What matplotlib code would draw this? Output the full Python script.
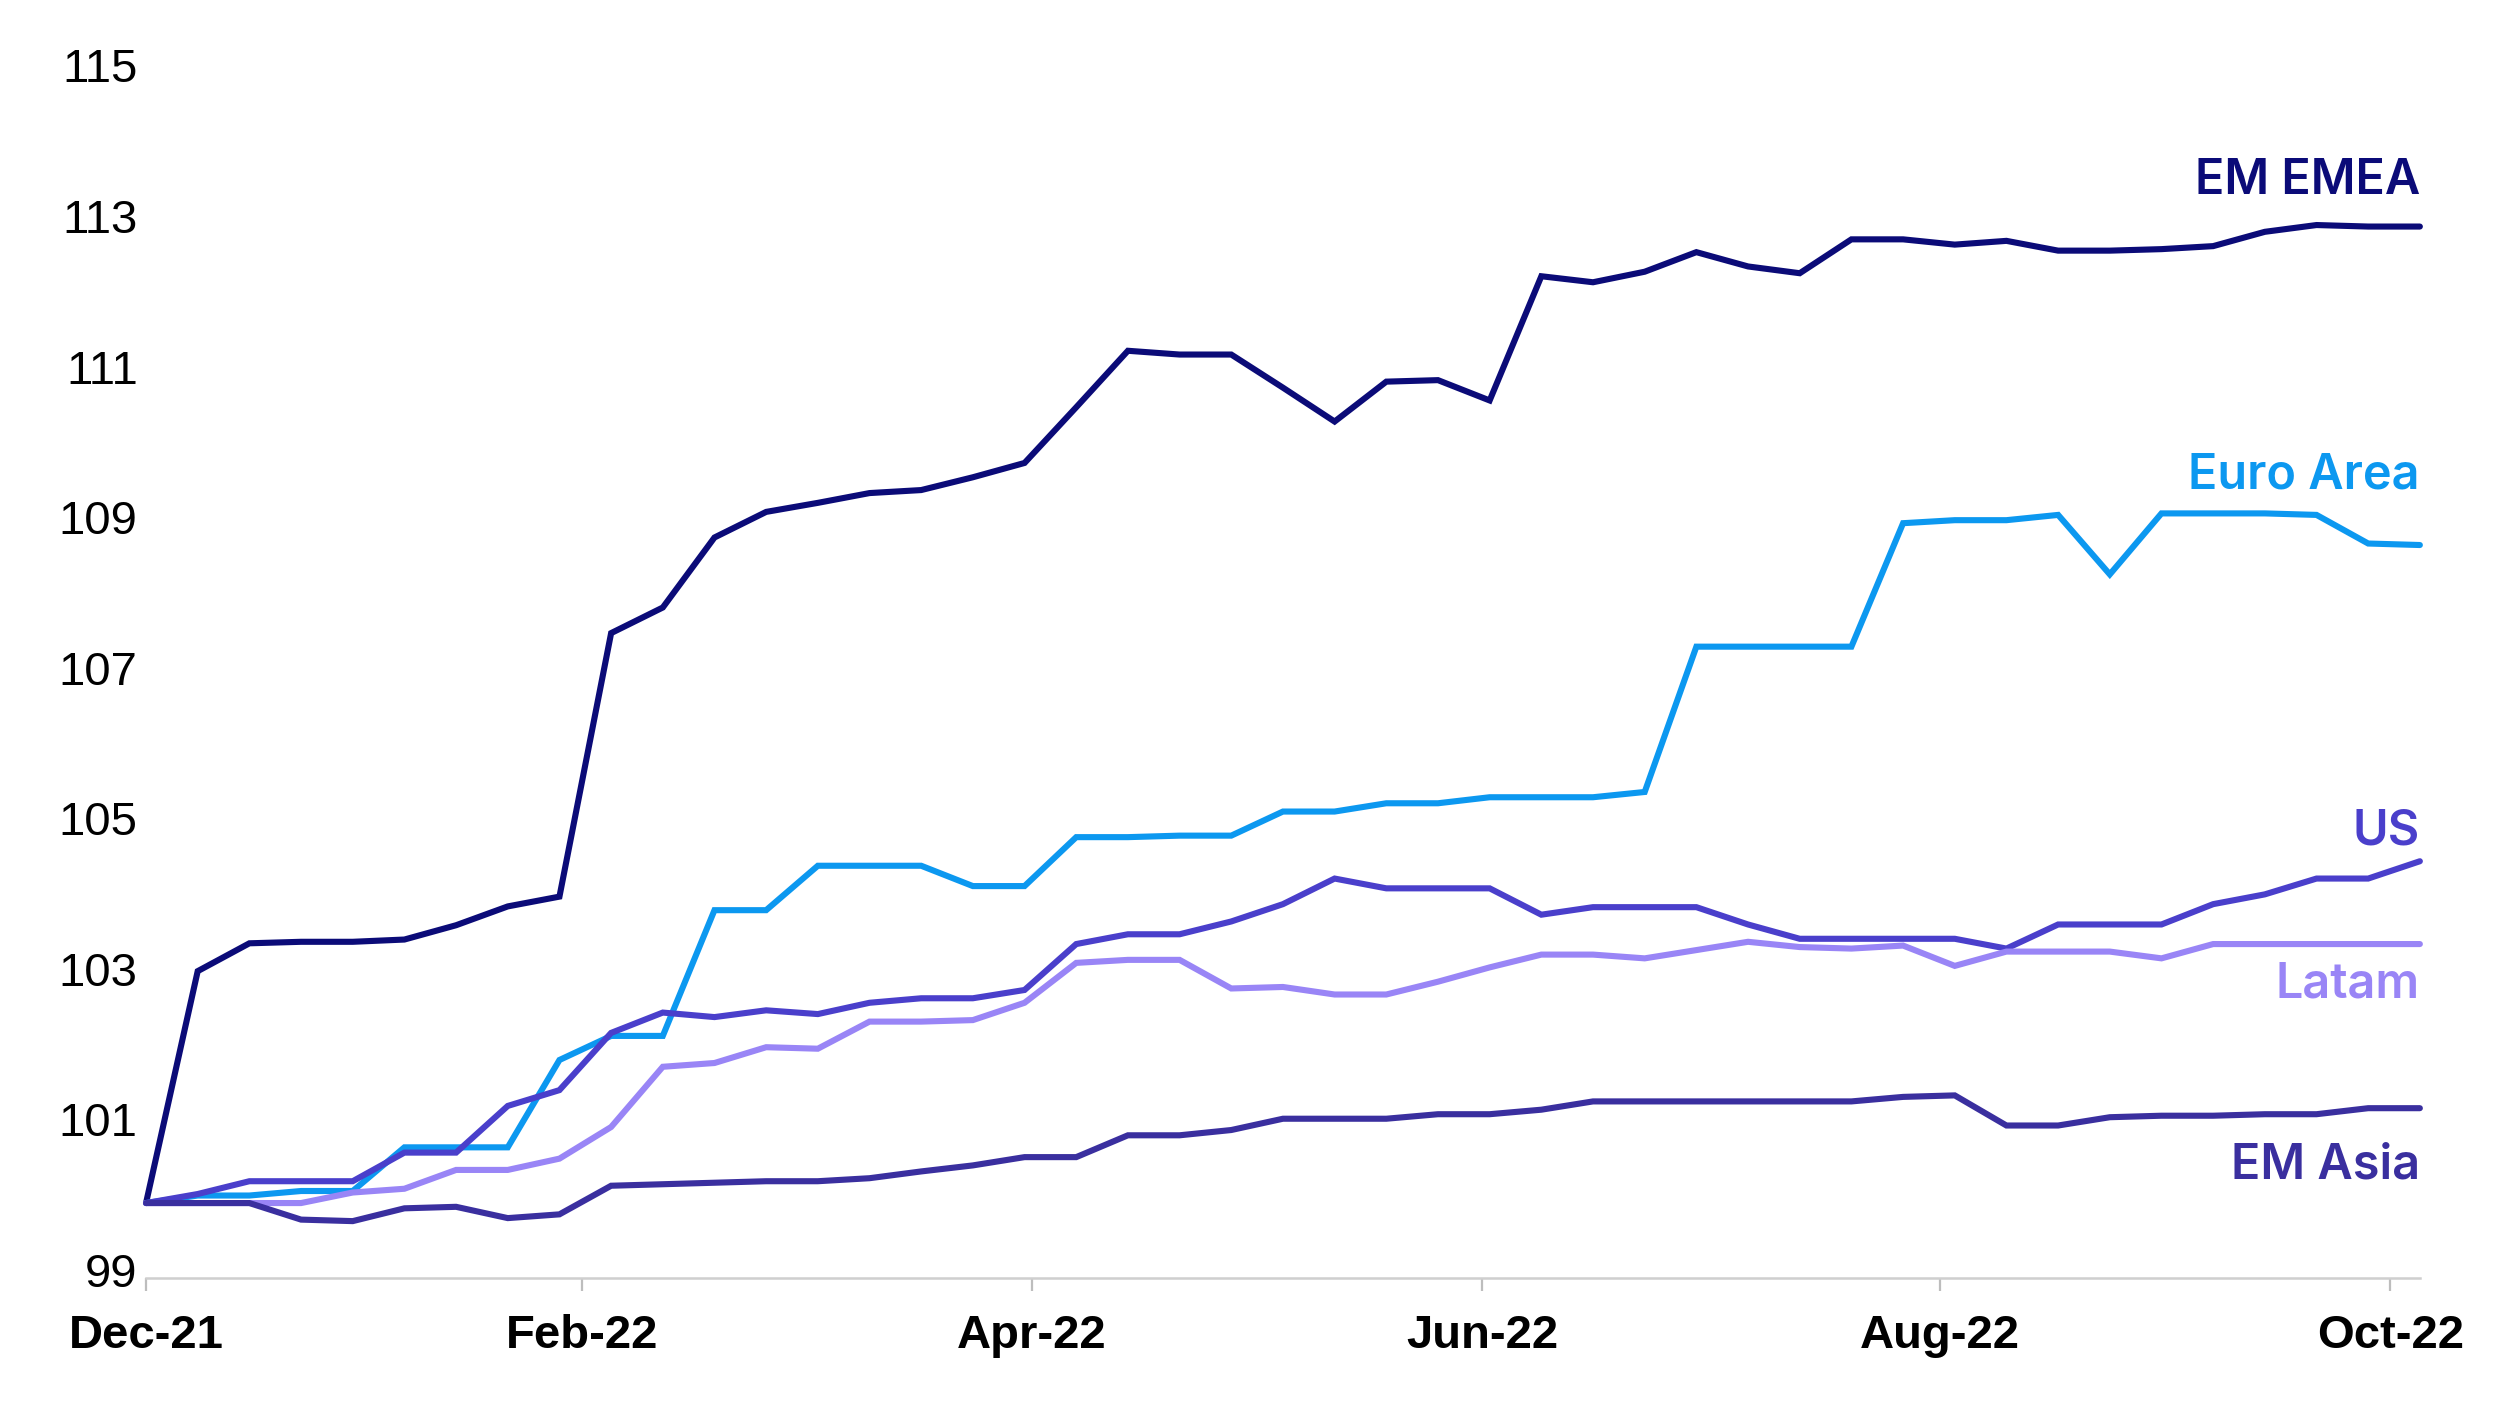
import matplotlib
matplotlib.use("Agg")
import matplotlib.pyplot as plt
import matplotlib.transforms as mtransforms
import pandas as pd

# weekly index levels, 31 Dec 2021 = 100
dates = pd.date_range("2021-12-31", periods=45, freq="7D")

em_emea = [100.00, 103.08, 103.45, 103.47, 103.47, 103.50, 103.69, 103.94, 104.07, 107.57,
           107.91, 108.84, 109.18, 109.30, 109.43, 109.47, 109.64, 109.83, 110.57, 111.32,
           111.27, 111.27, 110.83, 110.38, 110.91, 110.93, 110.66, 112.31, 112.23, 112.37,
           112.63, 112.44, 112.35, 112.80, 112.80, 112.73, 112.78, 112.65, 112.65, 112.67,
           112.71, 112.90, 112.99, 112.97, 112.97]
euro_area = [100.00, 100.10, 100.10, 100.16, 100.16, 100.74, 100.74, 100.74, 101.90, 102.22,
             102.22, 103.89, 103.89, 104.48, 104.48, 104.48, 104.21, 104.21, 104.86, 104.86,
             104.88, 104.88, 105.20, 105.20, 105.31, 105.31, 105.39, 105.39, 105.39, 105.46,
             107.39, 107.39, 107.39, 107.39, 109.03, 109.07, 109.07, 109.14, 108.35, 109.16,
             109.16, 109.16, 109.14, 108.76, 108.74]
us = [100.00, 100.12, 100.29, 100.29, 100.29, 100.67, 100.67, 101.29, 101.50, 102.26,
      102.53, 102.47, 102.56, 102.51, 102.66, 102.72, 102.72, 102.83, 103.44, 103.57,
      103.57, 103.74, 103.97, 104.31, 104.18, 104.18, 104.18, 103.83, 103.93, 103.93,
      103.93, 103.70, 103.51, 103.51, 103.51, 103.51, 103.38, 103.70, 103.70, 103.70,
      103.97, 104.10, 104.31, 104.31, 104.54]
latam = [100.00, 100.00, 100.00, 100.00, 100.14, 100.19, 100.44, 100.44, 100.59, 101.01,
         101.81, 101.86, 102.07, 102.05, 102.41, 102.41, 102.43, 102.66, 103.19, 103.23,
         103.23, 102.85, 102.87, 102.77, 102.77, 102.94, 103.13, 103.30, 103.30, 103.25,
         103.36, 103.47, 103.40, 103.38, 103.42, 103.15, 103.34, 103.34, 103.34, 103.25,
         103.44, 103.44, 103.44, 103.44, 103.44]
em_asia = [100.00, 100.00, 100.00, 99.78, 99.76, 99.93, 99.95, 99.80, 99.85, 100.23,
           100.25, 100.27, 100.29, 100.29, 100.33, 100.42, 100.50, 100.61, 100.61, 100.90,
           100.90, 100.97, 101.12, 101.12, 101.12, 101.18, 101.18, 101.24, 101.35, 101.35,
           101.35, 101.35, 101.35, 101.35, 101.41, 101.43, 101.03, 101.03, 101.14, 101.16,
           101.16, 101.18, 101.18, 101.26, 101.26]

tick_dates = pd.to_datetime(["2021-12-31", "2022-02-28", "2022-04-30",
                             "2022-06-30", "2022-08-31", "2022-10-31"])
tick_labels = ["Dec-21", "Feb-22", "Apr-22", "Jun-22", "Aug-22", "Oct-22"]
y_ticks = [99, 101, 103, 105, 107, 109, 111, 113, 115]

# name, values, colour, label offset from the last value (index points)
series = [
    ("EM EMEA", em_emea, "#0b0b78", 0.60),
    ("Euro Area", euro_area, "#0c98f0", 0.93),
    ("US", us, "#4a3fcb", 0.40),
    ("Latam", latam, "#9985f6", -0.54),
    ("EM Asia", em_asia, "#3a2f9f", -0.76),
]

fig = plt.figure(figsize=(12.48, 7.02), dpi=200)
ax = fig.add_axes([0.0585, 0.0895, 0.911, 0.858])

for name, vals, col, dy in series:
    ax.plot(dates, vals, color=col, lw=2.2, solid_capstyle="round",
            solid_joinstyle="miter", clip_on=False)
    ax.text(dates[-1], vals[-1] + dy, name, color=col, ha="right", va="center",
            fontsize=17.5, fontweight="semibold", family="Inter")

ax.set_xlim(dates[0], dates[-1])
ax.set_ylim(99, 115)
ax.set_yticks(y_ticks)
ax.set_yticklabels([str(v) for v in y_ticks], family="Liberation Sans", fontsize=17)
ax.set_xticks(tick_dates)
ax.set_xticklabels(tick_labels, family="Liberation Sans", fontsize=17, fontweight="bold")

for s in ["top", "right", "left"]:
    ax.spines[s].set_visible(False)
ax.spines["bottom"].set_color("#cfcfcf")
ax.spines["bottom"].set_linewidth(0.9)
ax.tick_params(axis="y", length=0, pad=3)
ax.tick_params(axis="x", length=4.5, width=0.8, color="#bdbdbd", pad=8.5)

# y labels sit slightly above their level
off = mtransforms.ScaledTranslation(0, 3 / 72, fig.dpi_scale_trans)
for lab in ax.get_yticklabels():
    lab.set_transform(lab.get_transform() + off)

fig.savefig("out.png", dpi=200)
